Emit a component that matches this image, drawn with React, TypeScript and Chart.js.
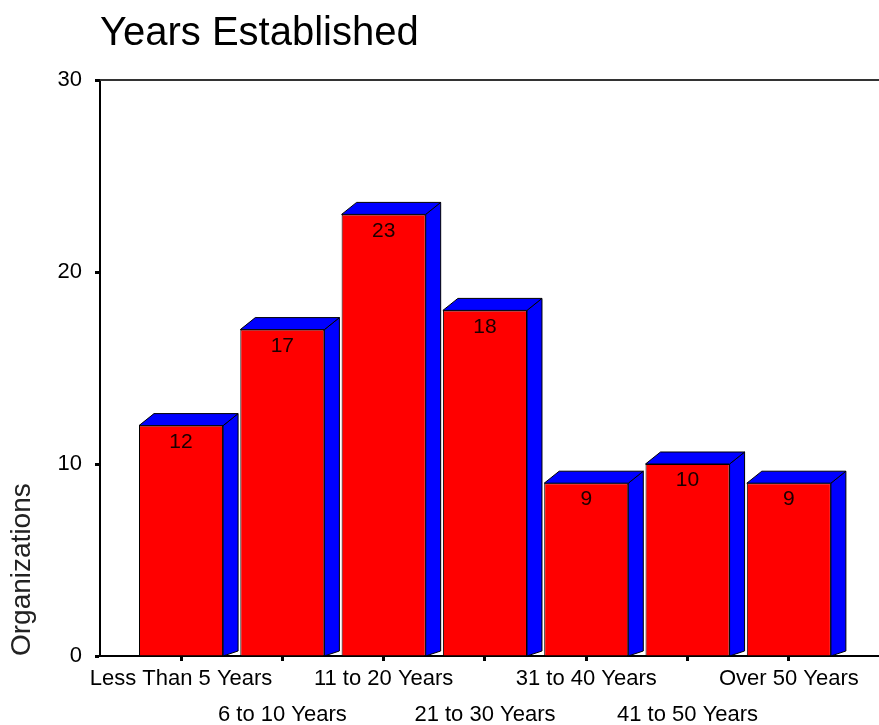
import React, { useEffect, useRef } from "react";
import { Chart, registerables } from "chart.js";

Chart.register(...registerables);

const TITLE = "Years Established";
const Y_TITLE = "Organizations";
const CATEGORIES = [
  "Less Than 5 Years",
  "6 to 10 Years",
  "11 to 20 Years",
  "21 to 30 Years",
  "31 to 40 Years",
  "41 to 50 Years",
  "Over 50 Years",
];
const VALUES = [12, 17, 23, 18, 9, 10, 9];
const Y_TICKS = [0, 10, 20, 30];

const FONT = "'Liberation Sans', Arial, sans-serif";
const DEPTH_X = 15;
const DEPTH_Y = 12;

const bar3dPlugin = {
  id: "bar3d",
  afterDatasetsDraw(chart: any) {
    const ctx = chart.ctx;
    const meta = chart.getDatasetMeta(0);
    const base = chart.scales.y.getPixelForValue(0);
    ctx.save();
    meta.data.forEach((bar: any) => {
      const { x, y, width } = bar.getProps(["x", "y", "width"], true);
      const l = x - width / 2;
      const r = x + width / 2;
      ctx.lineWidth = 1;
      ctx.strokeStyle = "#000";
      ctx.fillStyle = "#0000FF";
      // side
      ctx.beginPath();
      ctx.moveTo(r, y);
      ctx.lineTo(r + DEPTH_X, y - DEPTH_Y);
      ctx.lineTo(r + DEPTH_X, base - 5);
      ctx.lineTo(r, base);
      ctx.closePath();
      ctx.fill();
      ctx.stroke();
      // top
      ctx.beginPath();
      ctx.moveTo(l, y);
      ctx.lineTo(l + DEPTH_X, y - DEPTH_Y);
      ctx.lineTo(r + DEPTH_X, y - DEPTH_Y);
      ctx.lineTo(r, y);
      ctx.closePath();
      ctx.fill();
      ctx.stroke();
    });
    // value labels
    ctx.fillStyle = "#1a0000";
    ctx.font = `21px ${FONT}`;
    ctx.textAlign = "center";
    ctx.textBaseline = "top";
    meta.data.forEach((bar: any, i: number) => {
      const { x, y } = bar.getProps(["x", "y"], true);
      ctx.fillText(String(VALUES[i]), x, y + 6);
    });
    // top frame line
    const a = chart.chartArea;
    ctx.strokeStyle = "#333";
    ctx.lineWidth = 2;
    ctx.beginPath();
    ctx.moveTo(a.left, a.top);
    ctx.lineTo(a.right, a.top);
    ctx.stroke();
    ctx.restore();
  },
};

export default function App() {
  const ref = useRef<HTMLCanvasElement>(null);
  useEffect(() => {
    if (!ref.current) return;
    const chart = new Chart(ref.current, {
      type: "bar",
      data: {
        datasets: [
          {
            data: VALUES.map((v, i) => ({ x: i, y: v })),
            backgroundColor: "#FF0000",
            borderColor: "#000",
            borderWidth: 1,
            barPercentage: 0.83,
            categoryPercentage: 1,
          },
        ],
      },
      options: {
        responsive: false,
        animation: false,
        devicePixelRatio: 1,
        layout: { padding: { left: 0, right: 0, top: 0, bottom: 0 } },
        plugins: {
          legend: { display: false },
          tooltip: { enabled: false },
          title: {
            display: true,
            text: TITLE,
            align: "start",
            fullSize: false,
            color: "#000",
            font: { family: FONT, size: 40, weight: "normal", lineHeight: 1.2 },
            padding: { top: 10, bottom: 22 },
          },
        },
        scales: {
          x: {
            type: "linear",
            offset: false,
            grace: 0,
            min: -0.8,
            max: 6.89,
            afterBuildTicks: (scale: any) => {
              scale.ticks = CATEGORIES.map((_, i) => ({ value: i }));
            },
            afterFit: (scale: any) => {
              scale.height = 69;
            },
            ticks: {
              autoSkip: false,
              maxRotation: 0,
              minRotation: 0,
              padding: 0,
              color: "#000",
              font: { family: FONT, size: 22, lineHeight: 1.64 },
              callback: (value: any) => {
                const i = Math.round(Number(value));
                const label = CATEGORIES[i] ?? "";
                return i % 2 === 0 ? [label, ""] : ["", label];
              },
            },
            grid: {
              offset: false,
              drawOnChartArea: false,
              drawTicks: true,
              tickLength: 5,
              tickWidth: 3,
              color: "#000",
            },
            border: { display: true, color: "#000", width: 2 },
          },
          y: {
            min: 0,
            max: 30,
            afterBuildTicks: (scale: any) => {
              scale.ticks = Y_TICKS.map((v) => ({ value: v }));
            },
            afterFit: (scale: any) => {
              scale.width = 100;
            },
            ticks: {
              padding: 13,
              color: "#000",
              font: { family: FONT, size: 22 },
            },
            grid: {
              drawOnChartArea: false,
              drawTicks: true,
              tickLength: 5,
              tickWidth: 3,
              color: "#000",
            },
            border: { display: true, color: "#000", width: 2 },
            title: {
              display: true,
              text: Y_TITLE,
              align: "start",
              color: "#222",
              font: { family: FONT, size: 28, lineHeight: 1.2 },
              padding: { top: 5, bottom: 0 },
            },
          },
        },
      },
      plugins: [bar3dPlugin],
    } as any);
    return () => chart.destroy();
  }, []);
  return (
    <div style={{ position: "fixed", left: 0, top: 0, width: 879, height: 725, background: "#fff" }}>
      <canvas ref={ref} width={879} height={725} style={{ display: "block" }} />
    </div>
  );
}
